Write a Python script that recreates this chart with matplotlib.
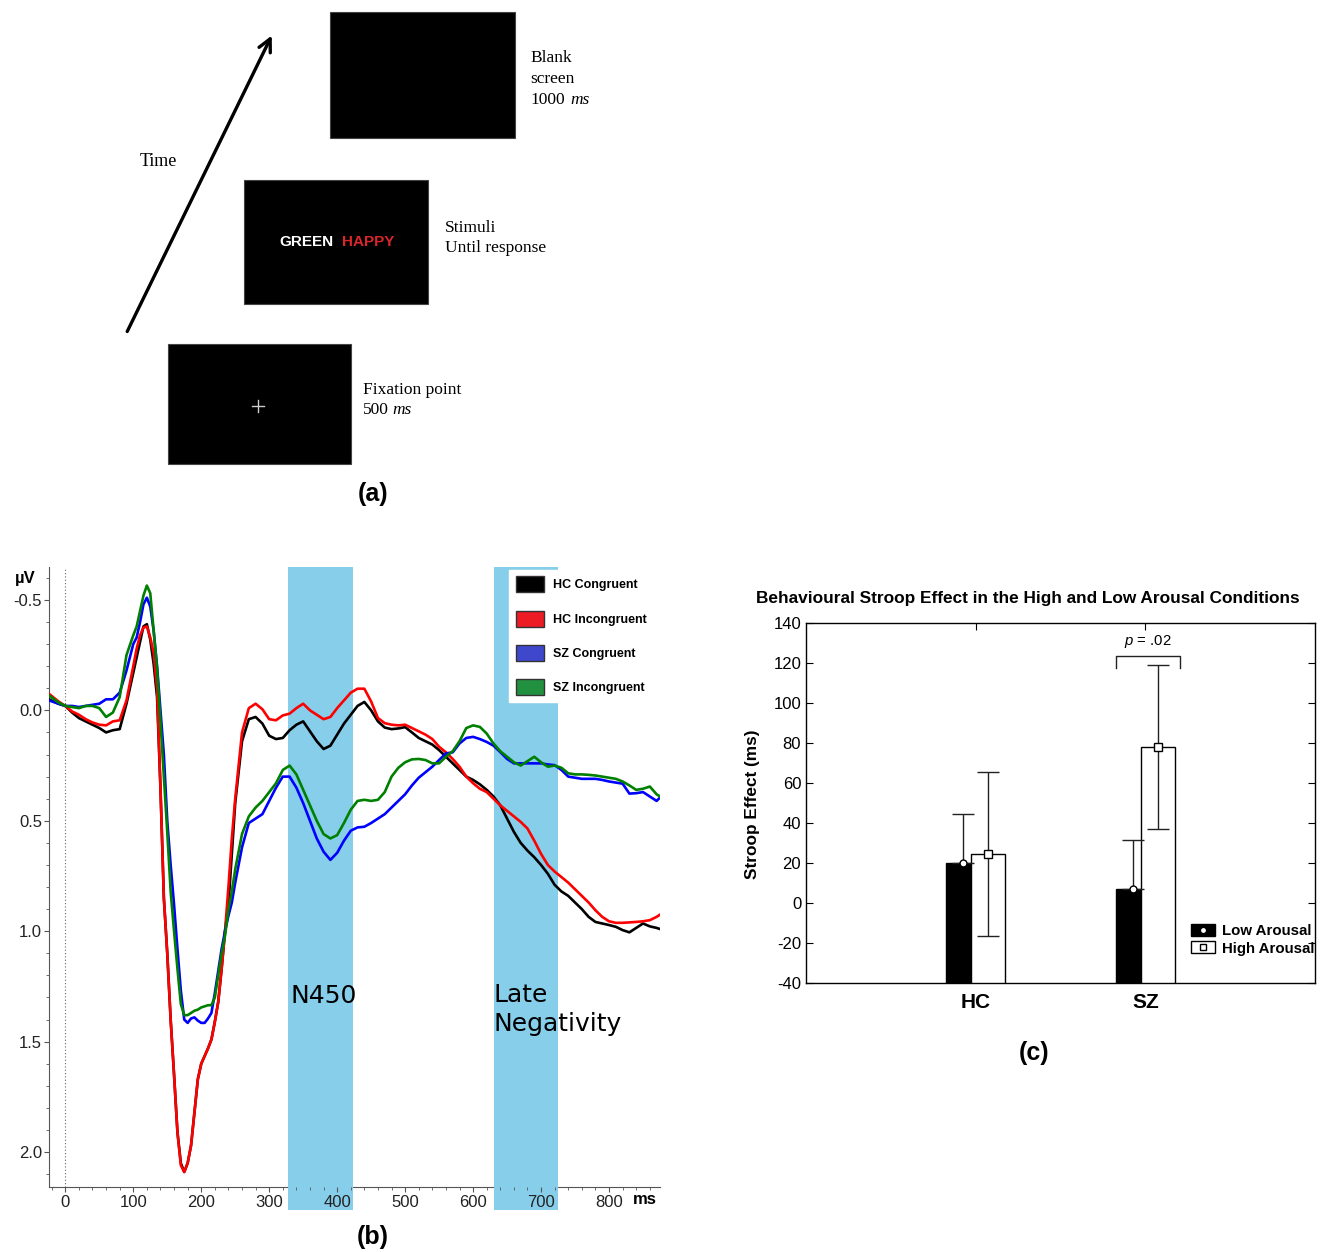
import numpy as np
import matplotlib
matplotlib.use('Agg')
import matplotlib.pyplot as plt
from matplotlib.patches import Rectangle, Patch
from matplotlib.lines import Line2D
from matplotlib.legend_handler import HandlerTuple
from matplotlib.ticker import MultipleLocator, FormatStrFormatter

plt.rcParams['font.family'] = ['Liberation Sans', 'DejaVu Sans']
plt.rcParams['axes.unicode_minus'] = False
plt.rcParams['mathtext.fontset'] = 'custom'
plt.rcParams['mathtext.it'] = 'Liberation Sans:italic'
plt.rcParams['mathtext.rm'] = 'Liberation Sans'

# ---------------- Panel (b): ERP waveforms (values in microvolts) ----------------
time_ms = ([-24, -10] + list(range(0, 101, 10)) + list(range(105, 250, 5))
           + list(range(250, 871, 10)) + [875])

hc_congruent = [
    -0.05, -0.03, -0.02, 0.01, 0.035, 0.05, 0.065, 0.08, 0.10, 0.09, 0.085, -0.03, -0.17,
    -0.24, -0.31, -0.38, -0.39, -0.32, -0.21, -0.06, 0.35, 0.85, 1.10, 1.40, 1.65, 1.91, 2.05, 2.09, 2.05,
    1.97, 1.82, 1.67, 1.60, 1.565, 1.53, 1.49, 1.41, 1.32, 1.17, 1.00, 0.88, 0.65,
    0.42, 0.14, 0.04, 0.03, 0.06, 0.115, 0.13, 0.125, 0.09, 0.065, 0.05, 0.095, 0.14, 0.175, 0.16,
    0.11, 0.06, 0.02, -0.02, -0.038, 0.0, 0.05, 0.078, 0.085, 0.082, 0.076, 0.10, 0.125, 0.14,
    0.155, 0.18, 0.21, 0.24, 0.27, 0.30, 0.315, 0.335, 0.36, 0.39, 0.43, 0.49, 0.55, 0.60,
    0.635, 0.665, 0.70, 0.74, 0.79, 0.82, 0.84, 0.87, 0.90, 0.935, 0.958, 0.965, 0.972, 0.98,
    0.995, 1.005, 0.985, 0.965, 0.978, 0.985,
    0.99]

hc_incongruent = [
    -0.075, -0.04, -0.02, 0.005, 0.02, 0.04, 0.055, 0.065, 0.068, 0.05, 0.045, -0.045, -0.20,
    -0.28, -0.34, -0.375, -0.38, -0.33, -0.26, -0.10, 0.35, 0.85, 1.10, 1.40, 1.65, 1.91, 2.06, 2.09, 2.05,
    1.97, 1.82, 1.67, 1.60, 1.565, 1.53, 1.49, 1.41, 1.32, 1.17, 1.00, 0.80, 0.58,
    0.40, 0.10, -0.01, -0.03, -0.005, 0.04, 0.045, 0.023, 0.015, -0.01, -0.03, 0.0, 0.02, 0.04, 0.03,
    -0.01, -0.045, -0.08, -0.098, -0.098, -0.04, 0.035, 0.058, 0.065, 0.068, 0.065, 0.08, 0.095, 0.11,
    0.13, 0.165, 0.19, 0.22, 0.255, 0.30, 0.33, 0.355, 0.37, 0.40, 0.43, 0.455, 0.48, 0.505,
    0.535, 0.59, 0.65, 0.70, 0.73, 0.755, 0.78, 0.81, 0.84, 0.87, 0.905, 0.935, 0.955, 0.962,
    0.962, 0.96, 0.958, 0.955, 0.95, 0.935,
    0.925]

sz_congruent = [
    -0.045, -0.03, -0.02, -0.02, -0.015, -0.02, -0.025, -0.03, -0.05, -0.05, -0.08, -0.18, -0.30,
    -0.33, -0.40, -0.48, -0.51, -0.47, -0.36, -0.20, 0.0, 0.20, 0.50, 0.70, 0.88, 1.08, 1.27, 1.40, 1.415,
    1.395, 1.39, 1.405, 1.415, 1.415, 1.395, 1.37, 1.28, 1.18, 1.08, 1.00, 0.93, 0.87,
    0.78, 0.62, 0.51, 0.49, 0.47, 0.41, 0.35, 0.30, 0.30, 0.35, 0.42, 0.50, 0.58, 0.64, 0.677,
    0.645, 0.59, 0.545, 0.53, 0.527, 0.51, 0.49, 0.47, 0.44, 0.41, 0.38, 0.34, 0.305, 0.28,
    0.255, 0.225, 0.195, 0.19, 0.15, 0.125, 0.12, 0.13, 0.143, 0.16, 0.189, 0.22, 0.24, 0.24,
    0.24, 0.24, 0.24, 0.245, 0.248, 0.27, 0.30, 0.305, 0.31, 0.31, 0.31, 0.315, 0.322, 0.327,
    0.332, 0.377, 0.375, 0.37, 0.39, 0.41,
    0.395]

sz_incongruent = [
    -0.068, -0.035, -0.02, -0.015, -0.01, -0.02, -0.02, -0.01, 0.03, 0.01, -0.06, -0.25, -0.34,
    -0.38, -0.45, -0.52, -0.565, -0.53, -0.36, -0.19, 0.05, 0.30, 0.55, 0.82, 1.00, 1.17, 1.33, 1.38, 1.38,
    1.37, 1.36, 1.355, 1.345, 1.34, 1.335, 1.335, 1.30, 1.20, 1.10, 1.02, 0.90, 0.82,
    0.72, 0.56, 0.48, 0.44, 0.41, 0.37, 0.33, 0.27, 0.25, 0.29, 0.36, 0.43, 0.50, 0.56, 0.58,
    0.565, 0.51, 0.45, 0.41, 0.405, 0.41, 0.405, 0.37, 0.30, 0.26, 0.235, 0.222, 0.22, 0.225,
    0.24, 0.24, 0.21, 0.185, 0.14, 0.08, 0.068, 0.075, 0.105, 0.15, 0.185, 0.21, 0.235, 0.25,
    0.23, 0.21, 0.235, 0.255, 0.25, 0.26, 0.285, 0.29, 0.29, 0.292, 0.295, 0.30, 0.305, 0.31,
    0.322, 0.34, 0.36, 0.355, 0.345, 0.38,
    0.39]

erp_labels = ['HC Congruent', 'HC Incongruent', 'SZ Congruent', 'SZ Incongruent']
erp_line_colors = ['#000000', '#ff0000', '#0000ff', '#008000']
erp_patch_colors = ['#000000', '#ed1c24', '#3f48cc', '#22913f']
windows = [(328, 424), (631, 725)]
window_names = ['N450', 'Late\nNegativity']

# ---------------- Panel (c): behavioural Stroop effect ----------------
groups = ['HC', 'SZ']
low_arousal = [20.0, 7.0]
high_arousal = [24.3, 78.0]
low_err = [24.3, 24.7]
high_err = [41.0, 41.0]
p_label = r'$p$ = .02'

W, H = 1320, 1252
fig = plt.figure(figsize=(W / 100, H / 100), dpi=100)

# ---------------- Panel (a): trial schematic (pixel coordinates) ----------------
ov = fig.add_axes([0, 0, 1, 1], zorder=0)
ov.set_xlim(0, W)
ov.set_ylim(H, 0)
ov.axis('off')
ov.patch.set_alpha(0)

for (x0, y0, w, h) in [(330, 12, 185, 126), (244, 180, 184, 124), (168, 344, 183, 120)]:
    ov.add_patch(Rectangle((x0, y0), w, h, facecolor='black', edgecolor='#444444', lw=0.8))

serif = ['Liberation Serif', 'DejaVu Serif']
fs_a = 12.5
ov.text(530, 58, 'Blank', family=serif, fontsize=fs_a, va='center')
ov.text(530, 79, 'screen', family=serif, fontsize=fs_a, va='center')
ov.text(530, 100, '1000', family=serif, fontsize=fs_a, va='center')
ov.text(570, 100, 'ms', family=serif, fontsize=fs_a, va='center', style='italic')
ov.text(445, 228, 'Stimuli', family=serif, fontsize=fs_a, va='center')
ov.text(445, 248, 'Until response', family=serif, fontsize=fs_a, va='center')
ov.text(363, 390, 'Fixation point', family=serif, fontsize=fs_a, va='center')
ov.text(363, 410, '500', family=serif, fontsize=fs_a, va='center')
ov.text(392, 410, 'ms', family=serif, fontsize=fs_a, va='center', style='italic')
ov.text(140, 161, 'Time', family=serif, fontsize=13, va='center')
ov.annotate('', xy=(273, 33), xytext=(126, 334),
            arrowprops=dict(arrowstyle='->,head_length=0.9,head_width=0.45', lw=2.4, color='black'))
ov.text(334, 242, 'GREEN', color='white', fontsize=11, weight='bold', ha='right', va='center')
ov.text(342, 242, 'HAPPY', color='#d8262b', fontsize=11, weight='bold', ha='left', va='center')
ov.plot([252, 264], [406, 406], color='#cccccc', lw=1)
ov.plot([258, 258], [400, 412], color='#cccccc', lw=1)

ov.text(373, 494, '(a)', fontsize=18, weight='bold', ha='center', va='center')
ov.text(373, 1237, '(b)', fontsize=18, weight='bold', ha='center', va='center')
ov.text(1034, 1053, '(c)', fontsize=18, weight='bold', ha='center', va='center')
ov.text(25, 578, 'µV', fontsize=12, weight='bold', ha='center', va='center')
ov.text(645, 1200, 'ms', fontsize=12, weight='bold', ha='center', va='center')

# ---------------- Panel (b) ----------------
axb = fig.add_axes([49 / W, 1 - 1187 / H, (660 - 49) / W, (1187 - 567) / H], zorder=1)
axb.patch.set_alpha(0)
axb.set_xlim(-24, 875)
axb.set_ylim(2.158, -0.649)
for vals, col in zip([hc_congruent, hc_incongruent, sz_congruent, sz_incongruent], erp_line_colors):
    axb.plot(time_ms, vals, color=col, lw=1.9, zorder=3)
for (a, b) in windows:
    axb.axvspan(a, b, ymin=-0.037, ymax=1, facecolor='#87CEEB', lw=0, zorder=2.6, clip_on=False)
axb.axvline(0, color='#666666', lw=0.8, ls=(0, (1, 2)), zorder=2)
big = ['DejaVu Sans']
axb.text(windows[0][0] + 3, 1.294, window_names[0], family=big, fontsize=18, va='center', ha='left', zorder=4)
axb.text(windows[1][0] - 1, 1.355, window_names[1], family=big, fontsize=18, va='center', ha='left',
         linespacing=1.3, zorder=4)

for s in ['top', 'right']:
    axb.spines[s].set_visible(False)
for s in ['left', 'bottom']:
    axb.spines[s].set_color('#555555')
axb.xaxis.set_major_locator(MultipleLocator(100))
axb.xaxis.set_minor_locator(MultipleLocator(20))
axb.yaxis.set_major_locator(MultipleLocator(0.5))
axb.yaxis.set_minor_locator(MultipleLocator(0.1))
axb.yaxis.set_major_formatter(FormatStrFormatter('%.1f'))
axb.tick_params(which='major', length=3.6, color='#555555', labelsize=12, labelcolor='#222222')
axb.tick_params(which='minor', length=2.2, color='#555555')
axb.tick_params(axis='y', which='major', pad=1.5)
axb.tick_params(axis='x', which='major', pad=2.5)
axb.xaxis.set_zorder(2.7)

handles = [Patch(facecolor=c, edgecolor='#333333', lw=1) for c in erp_patch_colors]
leg = axb.legend(handles, erp_labels, loc='upper right', bbox_to_anchor=(0.988, 0.995),
                 frameon=True, framealpha=1, facecolor='white', edgecolor='white', fancybox=False,
                 prop={'weight': 'bold', 'size': 9}, handlelength=2.24, handleheight=1.6,
                 labelspacing=1.46, borderaxespad=0, borderpad=0.5, handletextpad=0.72)
leg.set_zorder(5)

# ---------------- Panel (c) ----------------
axc = fig.add_axes([806 / W, 1 - 983 / H, 509 / W, 360 / H], zorder=1)
xpos = np.arange(1, len(groups) + 1)
off, bw = 0.075, 0.2
base = -40
axc.bar(xpos - off, np.array(low_arousal) - base, bottom=base, width=bw,
        color='black', edgecolor='black', lw=1, zorder=2)
axc.bar(xpos + off, np.array(high_arousal) - base, bottom=base, width=bw,
        color='white', edgecolor='black', lw=1, zorder=3)
# lower half of the low-arousal error bars is hidden inside the black bars
axc.errorbar(xpos - off, low_arousal, yerr=[np.zeros(len(low_err)), low_err], fmt='o',
             mfc='white', mec='black', ms=5, mew=1, ecolor='#222222', elinewidth=1,
             capsize=7.7, capthick=1, zorder=4)
axc.errorbar(xpos + off, high_arousal, yerr=high_err, fmt='s', mfc='white', mec='black', ms=5.5,
             mew=1, ecolor='#222222', elinewidth=1, capsize=7.7, capthick=1, zorder=4)

# significance bracket over SZ
bx0 = xpos[1] - off - bw / 2
bx1 = xpos[1] + off + bw / 2 + 0.03
btop = high_arousal[1] + high_err[1] + 4.5
axc.plot([bx0, bx0, bx1, bx1], [btop - 6, btop, btop, btop - 6], color='#222222', lw=1, zorder=4)
axc.text((bx0 + bx1) / 2, btop + 7, p_label, ha='center', va='center', fontsize=10.7)

axc.set_xlim(0, 3)
axc.set_ylim(-40, 140)
axc.set_yticks(np.arange(-40, 141, 20))
axc.set_xticks(xpos)
axc.set_xticklabels(groups, fontsize=15, weight='bold')
axc.tick_params(axis='y', labelsize=12)
axc.tick_params(direction='in', top=True, right=True, length=5, width=0.8)
axc.tick_params(axis='x', pad=7)
for s in axc.spines.values():
    s.set_linewidth(1)

lh = [(Patch(facecolor='black', edgecolor='black'),
       Line2D([], [], marker='o', mfc='white', mec='black', ms=4.5, ls='none')),
      (Patch(facecolor='white', edgecolor='black'),
       Line2D([], [], marker='s', mfc='white', mec='black', ms=5, ls='none'))]
legc = axc.legend(lh, ['Low Arousal', 'High Arousal'], handler_map={tuple: HandlerTuple(ndivide=1, pad=0)},
                  loc='upper left', bbox_to_anchor=(0.756, 0.163), frameon=False,
                  prop={'weight': 'bold', 'size': 10.8}, handlelength=1.6, handleheight=0.85,
                  labelspacing=0.2, borderaxespad=0, borderpad=0, handletextpad=0.45)
for t in legc.get_texts():
    t.set_clip_box(axc.bbox)
    t.set_clip_on(True)

fig.text(1028 / W, 1 - 598 / H, 'Behavioural Stroop Effect in the High and Low Arousal Conditions',
         ha='center', va='center', fontsize=12.4, weight='bold')
fig.text(752 / W, 1 - 804 / H, 'Stroop Effect (ms)', rotation=90, ha='center', va='center',
         fontsize=12.4, weight='bold')

fig.savefig('out.png', dpi=100)
